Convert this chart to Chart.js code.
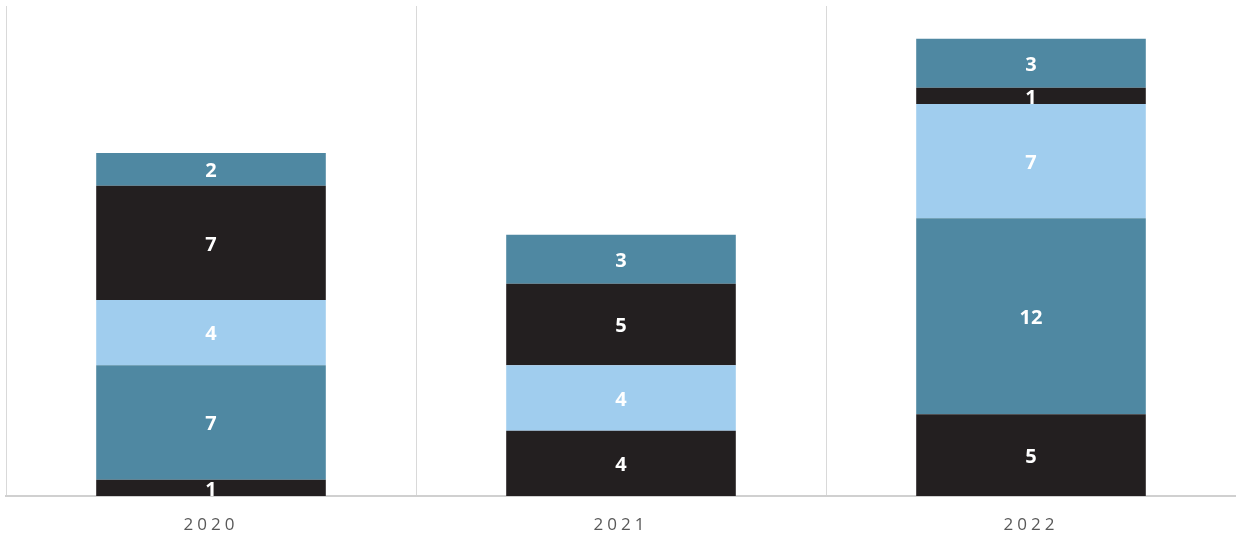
<!DOCTYPE html>
<html>
<head>
<meta charset="utf-8">
<script src="https://cdn.jsdelivr.net/npm/chart.js@4"></script>
<style>
  html, body { margin: 0; padding: 0; background: #ffffff; }
  #wrap { width: 1236px; height: 539px; }
</style>
</head>
<body>
<div id="wrap"><canvas id="stackChart" width="1236" height="539"></canvas></div>
<script>
// categories and stacked segment values (bottom to top)
const years = ['2020', '2021', '2022'];
const seg1 = [1, 4, 5];
const seg2 = [7, 0, 12];
const seg3 = [4, 4, 7];
const seg4 = [7, 5, 1];
const seg5 = [2, 3, 3];

const DARK = '#231f20';
const TEAL = '#4f88a2';
const LIGHT = '#a0cdee';

// draws the white value in the middle of every segment
const segmentLabels = {
    id: 'segmentLabels',
    afterDatasetsDraw(chart) {
        const ctx = chart.ctx;
        ctx.save();
        ctx.letterSpacing = '0px';
        ctx.font = 'bold 20px "Open Sans"';
        ctx.fillStyle = '#ffffff';
        ctx.textAlign = 'center';
        ctx.textBaseline = 'middle';
        chart.data.datasets.forEach((ds, i) => {
            const meta = chart.getDatasetMeta(i);
            meta.data.forEach((bar, j) => {
                const v = ds.data[j];
                if (!v) return;
                const mid = (bar.y + bar.base) / 2;
                ctx.fillText(String(v), bar.x, mid + 2);
            });
        });
        ctx.restore();
    }
};

// spaced-out year labels
const tickSpacing = {
    id: 'tickSpacing',
    beforeDraw(chart) {
        chart.ctx.letterSpacing = '4px';
    }
};

function makeSet(label, values, color) {
    return {
        label: label,
        data: values,
        backgroundColor: color,
        borderWidth: 0,
        categoryPercentage: 1,
        barPercentage: 0.56
    };
}

const ctx = document.getElementById('stackChart').getContext('2d');
new Chart(ctx, {
    type: 'bar',
    data: {
        labels: years,
        datasets: [
            makeSet('s1', seg1, DARK),
            makeSet('s2', seg2, TEAL),
            makeSet('s3', seg3, LIGHT),
            makeSet('s4', seg4, DARK),
            makeSet('s5', seg5, TEAL)
        ]
    },
    options: {
        responsive: false,
        animation: false,
        layout: { padding: { left: 6, right: 0, top: 6, bottom: 5 } },
        plugins: {
            legend: { display: false },
            tooltip: { enabled: false }
        },
        scales: {
            x: {
                stacked: true,
                afterFit(scale) { scale.height = 38; },
                grid: {
                    display: true,
                    offset: true,
                    color: '#d9d9d9',
                    lineWidth: 1,
                    drawTicks: false
                },
                border: { display: true, color: '#d0d0d0', width: 2 },
                ticks: {
                    padding: 19,
                    maxRotation: 0,
                    color: '#595959',
                    font: { family: 'Open Sans', size: 17 }
                }
            },
            y: {
                stacked: true,
                display: false,
                min: 0,
                max: 30
            }
        }
    },
    plugins: [tickSpacing, segmentLabels]
});
</script>
</body>
</html>
